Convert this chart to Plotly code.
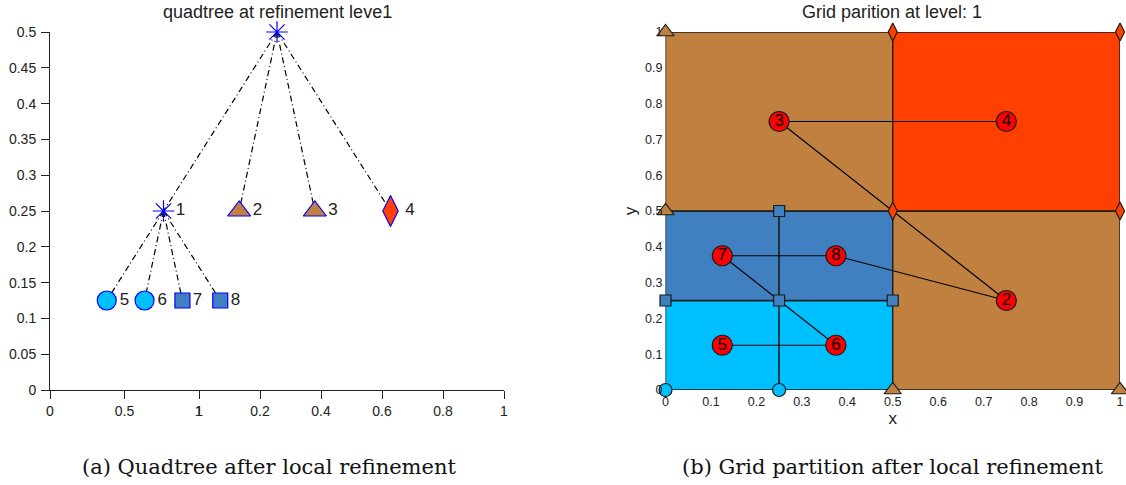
import plotly.graph_objects as go

W, H = 1126, 485

# ---- quadtree (left panel) ----
node_ids = [0, 1, 2, 3, 4, 5, 6, 7, 8]
node_x = [0.5, 0.25, 0.4167, 0.5833, 0.75, 0.125, 0.2083, 0.2917, 0.375]
node_y = [0.5, 0.25, 0.25, 0.25, 0.25, 0.125, 0.125, 0.125, 0.125]
node_parent = [None, 0, 0, 0, 0, 1, 1, 1, 1]
node_labels = ["", "1", "2", "3", "4", "5", "6", "7", "8"]

# left x-axis carries two overlapping tick sets
tick_text_a = ["0", "0.5", "1"]
tick_frac_a = [0.0, 0.5, 1.0]
tick_text_b = ["0", "0.2", "0.4", "0.6", "0.8", "1"]
tick_frac_b = [0.0, 0.2, 0.4, 0.6, 0.8, 1.0]
split = 149 / 454

left_yticks = [0, 0.05, 0.1, 0.15, 0.2, 0.25, 0.3, 0.35, 0.4, 0.45, 0.5]

# ---- grid partition (right panel) ----
leaf_ids = [5, 6, 7, 8, 2, 3, 4]          # traversal / drawing order
leaf_x0 = [0.0, 0.25, 0.0, 0.25, 0.5, 0.0, 0.5]
leaf_x1 = [0.25, 0.5, 0.25, 0.5, 1.0, 0.5, 1.0]
leaf_y0 = [0.0, 0.0, 0.25, 0.25, 0.0, 0.5, 0.5]
leaf_y1 = [0.25, 0.25, 0.5, 0.5, 0.5, 1.0, 1.0]

right_ticks = [0, 0.1, 0.2, 0.3, 0.4, 0.5, 0.6, 0.7, 0.8, 0.9, 1]
right_tick_text = ["0", "0.1", "0.2", "0.3", "0.4", "0.5", "0.6", "0.7", "0.8", "0.9", "1"]

BROWN = "#C08040"
ORANGE = "#FF4000"
STEEL = "#4080C0"
SKY = "#00BFFF"

style = {
    0: dict(symbol="asterisk-open", color="blue", size=18),
    1: dict(symbol="asterisk-open", color="blue", size=18),
    2: dict(symbol="triangle-up", color=BROWN, size=20),
    3: dict(symbol="triangle-up", color=BROWN, size=20),
    4: dict(symbol="diamond-tall", color=ORANGE, size=22),
    5: dict(symbol="circle", color=SKY, size=19),
    6: dict(symbol="circle", color=SKY, size=19),
    7: dict(symbol="square", color=STEEL, size=15),
    8: dict(symbol="square", color=STEEL, size=15),
}
vert_size = {"triangle-up": 15, "diamond-tall": 13, "circle": 13, "square": 11}

FONT = "Liberation Sans, Arial, sans-serif"
TXT = "#222222"

fig = go.Figure()

# tree edges
for i, p in zip(node_ids, node_parent):
    if p is None:
        continue
    fig.add_trace(go.Scatter(
        x=[node_x[p], node_x[i]], y=[node_y[p], node_y[i]],
        mode="lines", line=dict(color="black", width=1.2, dash="6px,3px,1px,3px"),
        xaxis="x", yaxis="y", hoverinfo="skip", cliponaxis=False))

# tree nodes
for i in node_ids:
    st = style[i]
    marker = dict(symbol=st["symbol"], size=st["size"], color=st["color"],
                  line=dict(color="blue", width=1.2))
    fig.add_trace(go.Scatter(
        x=[node_x[i]], y=[node_y[i]], mode="markers+text" if node_labels[i] else "markers",
        marker=marker, text=[node_labels[i]], textposition="middle right",
        textfont=dict(family=FONT, size=17, color=TXT),
        xaxis="x", yaxis="y", hoverinfo="skip", cliponaxis=False))

# grid cells
for k, cid in enumerate(leaf_ids):
    xs = [leaf_x0[k], leaf_x1[k], leaf_x1[k], leaf_x0[k], leaf_x0[k]]
    ys = [leaf_y0[k], leaf_y0[k], leaf_y1[k], leaf_y1[k], leaf_y0[k]]
    fig.add_trace(go.Scatter(
        x=xs, y=ys, mode="lines", fill="toself", fillcolor=style[cid]["color"],
        line=dict(color="#1a1a1a", width=1.3),
        xaxis="x2", yaxis="y2", hoverinfo="skip", cliponaxis=False))

# traversal path through cell centres
cx = [(a + b) / 2 for a, b in zip(leaf_x0, leaf_x1)]
cy = [(a + b) / 2 for a, b in zip(leaf_y0, leaf_y1)]
fig.add_trace(go.Scatter(
    x=cx, y=cy, mode="lines", line=dict(color="black", width=1.2),
    xaxis="x2", yaxis="y2", hoverinfo="skip", cliponaxis=False))

# cell corner markers (later cells overwrite shared corners)
corner_owner = {}
for k, cid in enumerate(leaf_ids):
    for vx in (leaf_x0[k], leaf_x1[k]):
        for vy in (leaf_y0[k], leaf_y1[k]):
            corner_owner[(vx, vy)] = cid
for cid in leaf_ids:
    pts = [v for v, o in corner_owner.items() if o == cid]
    if not pts:
        continue
    st = style[cid]
    fig.add_trace(go.Scatter(
        x=[p[0] for p in pts], y=[p[1] for p in pts], mode="markers",
        marker=dict(symbol=st["symbol"], size=vert_size[st["symbol"]], color=st["color"],
                    line=dict(color="#1a1a1a", width=1.2)),
        xaxis="x2", yaxis="y2", hoverinfo="skip", cliponaxis=False))

# numbered cell centres
fig.add_trace(go.Scatter(
    x=cx, y=cy, mode="markers+text",
    marker=dict(symbol="circle", size=20, color="#FF0000", line=dict(color="#1a1a1a", width=1.2)),
    text=[str(c) for c in leaf_ids], textposition="middle center",
    textfont=dict(family=FONT, size=17, color="black"),
    xaxis="x2", yaxis="y2", hoverinfo="skip", cliponaxis=False))

def px(x):
    return x / W

def py(y):
    return 1 - y / H

left_tickvals = [f * split for f in tick_frac_a] + [split + 1e-6 + f * (1 - split) for f in tick_frac_b]
left_ticktext = tick_text_a + tick_text_b

axis_common = dict(showgrid=False, zeroline=False, showline=True, linecolor="#222222",
                   linewidth=1, tickfont=dict(family=FONT, size=14, color=TXT))

def note(text, x, y, font):
    return dict(text=text, x=px(x), y=py(y), xref="paper", yref="paper",
                xanchor="center", yanchor="middle", showarrow=False, font=font)

fig.update_layout(
    width=W, height=H, margin=dict(l=0, r=0, t=0, b=0, autoexpand=False),
    paper_bgcolor="white", plot_bgcolor="white", showlegend=False,
    xaxis=dict(domain=[px(50), px(504)], range=[0, 1], anchor="y",
               tickmode="array", tickvals=left_tickvals, ticktext=left_ticktext,
               tickangle=0, ticks="outside", ticklen=8, tickcolor="#222222", **axis_common),
    yaxis=dict(domain=[py(390), py(32)], range=[0, 0.5], anchor="x",
               tickmode="array", tickvals=left_yticks,
               ticktext=[("%g" % v) for v in left_yticks],
               ticks="outside", ticklen=8, tickcolor="#222222", ticklabelstandoff=2,
               **axis_common),
    xaxis2=dict(domain=[px(665.5), px(1120)], range=[0, 1], anchor="y2",
                tickmode="array", tickvals=right_ticks, ticktext=right_tick_text,
                tickangle=0, ticks="", ticklabelstandoff=2,
                title=dict(text="x", font=dict(family=FONT, size=17, color=TXT), standoff=4),
                showgrid=False, zeroline=False, showline=False,
                tickfont=dict(family=FONT, size=12.5, color=TXT)),
    yaxis2=dict(domain=[py(390), py(32)], range=[0, 1], anchor="x2",
                tickmode="array", tickvals=right_ticks, ticktext=right_tick_text,
                ticks="", ticklabelstandoff=2,
                title=dict(text="y", font=dict(family=FONT, size=17, color=TXT), standoff=4),
                showgrid=False, zeroline=False, showline=False,
                tickfont=dict(family=FONT, size=12.5, color=TXT)),
    annotations=[
        note("quadtree at refinement leve1", 277, 12, dict(family=FONT, size=18, color=TXT)),
        note("Grid parition at level: 1", 892, 12, dict(family=FONT, size=18, color=TXT)),
        note("(a) Quadtree after local refinement", 269, 467,
             dict(family="DejaVu Serif, serif", size=21, color="#111111")),
        note("(b) Grid partition after local refinement", 893, 467,
             dict(family="DejaVu Serif, serif", size=21, color="#111111")),
    ],
)

fig.write_html("out.html", post_script="document.body.style.margin='0';document.body.style.overflow='hidden';")
